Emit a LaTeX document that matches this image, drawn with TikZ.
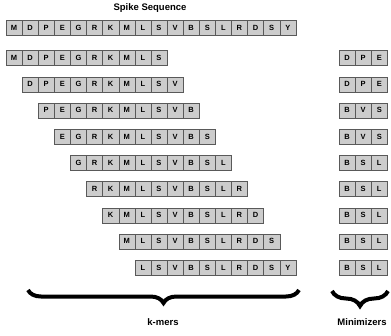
\documentclass[tikz,border=0pt]{standalone}
\usepackage{fontspec}
\setmainfont{Liberation Sans}
\usetikzlibrary{decorations.pathreplacing}

\begin{document}
\begin{tikzpicture}[x=1pt,y=-1pt,
  cell/.style={draw=black!65, fill=black!20, minimum width=16.1pt, minimum height=15pt,
    inner sep=0pt, font=\fontsize{7.5}{8}\selectfont\bfseries},
  caption/.style={font=\fontsize{9.5}{11}\selectfont\bfseries},
  bigbrace/.style={decorate, decoration={brace, amplitude=#1}, line width=4pt}]

\useasboundingbox (0,0) rectangle (391,335);

% Title
\node[caption] (title) at (150,8) {Spike Sequence};

% Full sequence
\def\seq{{"M","D","P","E","G","R","K","M","L","S","V","B","S","L","R","D","S","Y"}}
\foreach \a [count=\i] in {M,D,P,E,G,R,K,M,L,S,V,B,S,L,R,D,S,Y}
  \node[cell] (s\i) at ({6+16.1*(\i-0.5)},28) {\a};

% k-mers, row r starts at letter r
\foreach \r in {1,...,9}
  \foreach \j in {1,...,10} {
    \pgfmathsetmacro\letter{\seq[\r+\j-2]}
    \node[cell] (k\r-\j) at ({6+16.1*(\r+\j-1.5)},{58+26.2*(\r-1)}) {\letter};
  }

% Minimizers
\foreach \a/\b/\c [count=\r] in {D/P/E,D/P/E,B/V/S,B/V/S,B/S/L,B/S/L,B/S/L,B/S/L,B/S/L}
  \foreach \m [count=\j] in {\a,\b,\c}
    \node[cell] (m\r-\j) at ({339+16.1*(\j-0.5)},{58+26.2*(\r-1)}) {\m};

% Braces
\coordinate (kL) at (28,290);
\coordinate (kR) at (299,290);
\draw[bigbrace=13pt] (kR) -- (kL);
\coordinate (mL) at (332,291);
\coordinate (mR) at (388,291);
\draw[bigbrace=15pt] (mR) -- (mL);

% Labels
\node[caption] (kmers) at (163,322) {k-mers};
\node[caption] (mins) at (362,322) {Minimizers};

\end{tikzpicture}
\end{document}
